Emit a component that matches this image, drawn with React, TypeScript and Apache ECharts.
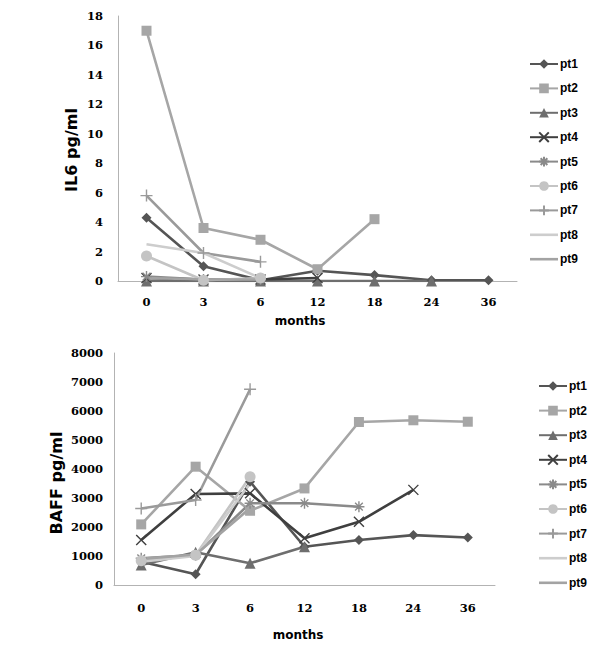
import React, { useEffect, useRef } from "react";
import * as echarts from "echarts";

const months = ["0", "3", "6", "12", "18", "24", "36"];
const names = ["pt1", "pt2", "pt3", "pt4", "pt5", "pt6", "pt7", "pt8", "pt9"];

// IL6 pg/ml
const il6_pt1 = [4.3, 1.0, 0.05, 0.7, 0.4, 0.05, 0.05];
const il6_pt2 = [17.0, 3.6, 2.8, 0.8, 4.2, null, null];
const il6_pt3 = [0, 0, 0, 0, 0, 0, null];
const il6_pt4 = [0.2, 0.1, 0.1, 0.2, null, null, null];
const il6_pt5 = [0.3, 0.1, 0.1, null, null, null, null];
const il6_pt6 = [1.7, 0.05, 0.2, null, null, null, null];
const il6_pt7 = [5.8, 1.9, 1.3, null, null, null, null];
const il6_pt8 = [2.5, 1.9, 0.2, null, null, null, null];
const il6_pt9 = [0.2, 0.1, 0.1, null, null, null, null];

// BAFF pg/ml
const baff_pt1 = [800, 370, 3560, 1320, 1550, 1720, 1640];
const baff_pt2 = [2090, 4080, 2560, 3330, 5620, 5680, 5630];
const baff_pt3 = [690, 1130, 750, 1320, null, null, null];
const baff_pt4 = [1550, 3140, 3160, 1610, 2180, 3280, null];
const baff_pt5 = [920, 1030, 2820, 2820, 2700, null, null];
const baff_pt6 = [840, 1030, 3730, null, null, null, null];
const baff_pt7 = [2640, 2930, 6750, null, null, null, null];
const baff_pt8 = [800, 1000, 3500, null, null, null, null];
const baff_pt9 = [900, 1050, 2650, null, null, null, null];

const il6Data = [il6_pt1, il6_pt2, il6_pt3, il6_pt4, il6_pt5, il6_pt6, il6_pt7, il6_pt8, il6_pt9];
const baffData = [baff_pt1, baff_pt2, baff_pt3, baff_pt4, baff_pt5, baff_pt6, baff_pt7, baff_pt8, baff_pt9];

const colors = ["#555555", "#a6a6a6", "#6e6e6e", "#3f3f3f", "#8a8a8a", "#c4c4c4", "#9a9a9a", "#cdcdcd", "#a3a3a3"];
const symbols = [
  "diamond",
  "rect",
  "triangle",
  "path://M0,0L10,10M10,0L0,10",
  "path://M0,5L10,5M1.5,1.5L8.5,8.5M8.5,1.5L1.5,8.5M5,0L5,10",
  "circle",
  "path://M0,5L10,5M5,0L5,10",
  "none",
  "none",
];
const symbolSizes = [10, 10, 11, 10, 11, 11, 12, 0, 0];

const tickFont = { fontFamily: "DejaVu Serif", fontWeight: "bold" as const, fontSize: 11.5, color: "#000" };

function makeSeries(data: (number | null)[][], axis: number) {
  return data.map((d, i) => ({
    name: names[i],
    type: "line",
    xAxisIndex: axis,
    yAxisIndex: axis,
    data: d,
    symbol: symbols[i],
    symbolSize: symbolSizes[i],
    showSymbol: symbols[i] !== "none",
    lineStyle: { color: colors[i], width: 2.6 },
    itemStyle: { color: colors[i], borderColor: colors[i], borderWidth: symbols[i].startsWith("path") ? 1.4 : 0 },
    connectNulls: false,
  }));
}

const legendData = names.map((n, i) =>
  symbols[i] === "none" ? { name: n, icon: "path://M0,0H28V2.6H0Z" } : { name: n }
);

export default function App() {
  const ref = useRef<HTMLDivElement>(null);
  useEffect(() => {
    if (!ref.current) return;
    const chart = echarts.init(ref.current, undefined, { renderer: "svg" });
    const axisLine = { show: true, lineStyle: { color: "#b3b3b3", width: 1 } };
    const legendText = { fontFamily: "Liberation Sans", fontWeight: "bold", fontSize: 12, color: "#000", padding: [0, 0, 0, -3] };
    chart.setOption({
      animation: false,
      backgroundColor: "#fff",
      grid: [
        { left: 118, right: 83, top: 16, bottom: 366 },
        { left: 114, right: 105, top: 353, bottom: 62 },
      ],
      xAxis: [0, 1].map((g) => ({
        type: "category",
        gridIndex: g,
        data: months,
        boundaryGap: true,
        axisLine,
        axisTick: { show: false },
        axisLabel: { ...tickFont, margin: g === 0 ? 15 : 17 },
        splitLine: { show: false },
      })),
      yAxis: [
        {
          type: "value",
          gridIndex: 0,
          min: 0,
          max: 18,
          interval: 2,
          axisLine,
          axisTick: { show: false },
          axisLabel: { ...tickFont, margin: 15 },
          splitLine: { show: false },
        },
        {
          type: "value",
          gridIndex: 1,
          min: 0,
          max: 8000,
          interval: 1000,
          axisLine,
          axisTick: { show: false },
          axisLabel: { ...tickFont, margin: 11, formatter: (v: number) => String(v) },
          splitLine: { show: false },
        },
      ],
      legend: [
        {
          orient: "vertical",
          left: 524,
          top: 53,
          itemWidth: 28,
          itemHeight: 12,
          itemGap: 12.4,
          selectedMode: false,
          data: legendData,
          textStyle: legendText,
        },
        {
          orient: "vertical",
          left: 533,
          top: 375,
          itemWidth: 28,
          itemHeight: 12,
          itemGap: 12.6,
          selectedMode: false,
          data: legendData,
          textStyle: legendText,
        },
      ],
      graphic: [
        {
          type: "text",
          x: 71,
          y: 150,
          rotation: Math.PI / 2,
          style: {
            text: "IL6 pg/ml",
            font: "bold 16px 'DejaVu Sans'",
            fill: "#000",
            align: "center",
            verticalAlign: "middle",
          },
        },
        {
          type: "text",
          x: 56,
          y: 483,
          rotation: Math.PI / 2,
          style: {
            text: "BAFF pg/ml",
            font: "bold 16px 'DejaVu Sans'",
            fill: "#000",
            align: "center",
            verticalAlign: "middle",
          },
        },
        {
          type: "text",
          x: 300,
          y: 321,
          style: { text: "months", font: "bold 12px 'DejaVu Sans'", fill: "#000", align: "center", verticalAlign: "middle" },
        },
        {
          type: "text",
          x: 298,
          y: 635,
          style: { text: "months", font: "bold 12px 'DejaVu Sans'", fill: "#000", align: "center", verticalAlign: "middle" },
        },
      ],
      series: [...makeSeries(il6Data, 0), ...makeSeries(baffData, 1)],
    });
    return () => chart.dispose();
  }, []);
  return <div ref={ref} style={{ position: "fixed", left: 0, top: 0, width: 600, height: 647 }} />;
}
